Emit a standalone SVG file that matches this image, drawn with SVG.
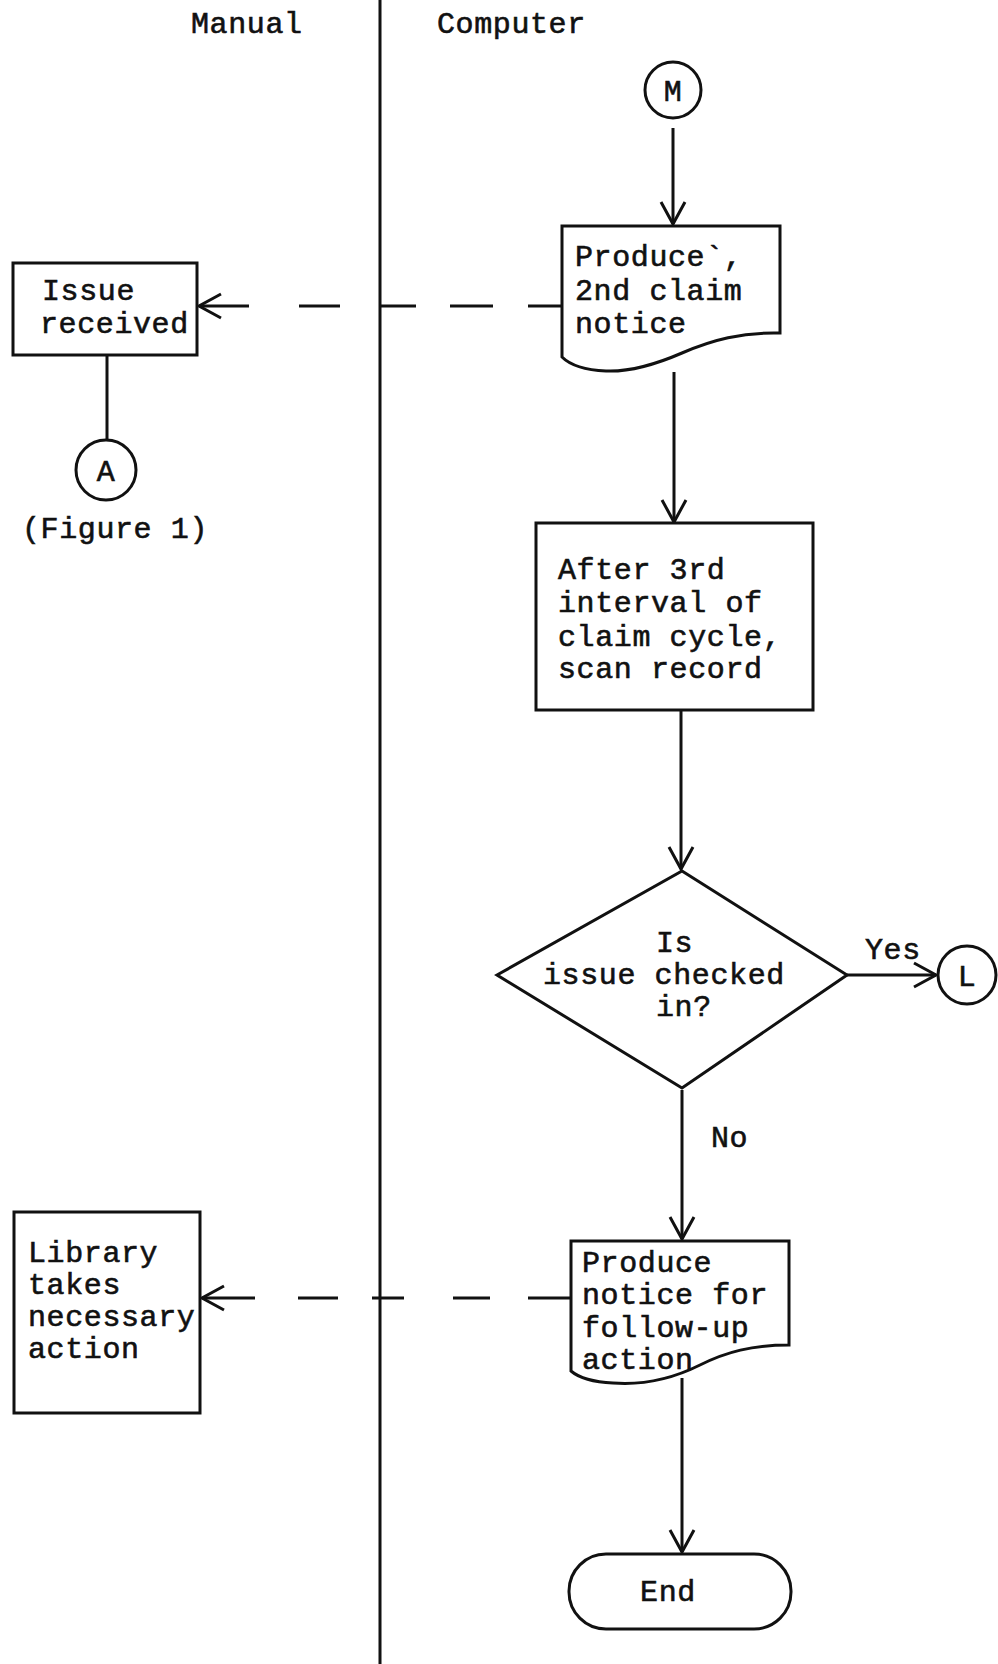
<svg xmlns="http://www.w3.org/2000/svg" width="998" height="1664" viewBox="0 0 998 1664">
<defs>
<style>
text{font-family:"Liberation Mono","Courier New",monospace;font-size:30px;letter-spacing:0.6px;fill:#111;stroke:#111;stroke-width:0.6}
.s{fill:#fff;stroke:#111;stroke-width:3}
.c{fill:none;stroke:#111;stroke-width:3}
.d{fill:none;stroke:#111;stroke-width:3}
</style>
<marker id="ah" markerUnits="userSpaceOnUse" markerWidth="30" markerHeight="30" viewBox="0 0 30 30" refX="23" refY="12" orient="auto" overflow="visible">
<path d="M1,0 L23,12 L1,24" fill="none" stroke="#111" stroke-width="3"/>
</marker>
</defs>
<rect width="998" height="1664" fill="#fff"/>

<g id="lanes">
<line x1="380" y1="0" x2="380" y2="1664" stroke="#111" stroke-width="3"/>
<text x="191" y="33">Manual</text>
<text x="437" y="33">Computer</text>
</g>

<g id="connectors">
<line class="c" x1="673" y1="128" x2="673" y2="224" marker-end="url(#ah)"/>
<line class="c" x1="674" y1="372" x2="674" y2="522" marker-end="url(#ah)"/>
<line class="c" x1="681" y1="711" x2="681" y2="869" marker-end="url(#ah)"/>
<line class="c" x1="682" y1="1090" x2="682" y2="1239" marker-end="url(#ah)"/>
<line class="c" x1="682" y1="1378" x2="682" y2="1552" marker-end="url(#ah)"/>
<line class="c" x1="847" y1="975" x2="936" y2="975" marker-end="url(#ah)"/>
<line class="c" x1="107" y1="355" x2="107" y2="440"/>
<g class="d">
<line x1="249" y1="306" x2="199" y2="306" marker-end="url(#ah)"/>
<line x1="299" y1="306" x2="340" y2="306"/>
<line x1="380" y1="306" x2="416" y2="306"/>
<line x1="450" y1="306" x2="493" y2="306"/>
<line x1="528" y1="306" x2="562" y2="306"/>
</g>
<g class="d">
<line x1="255" y1="1298" x2="202" y2="1298" marker-end="url(#ah)"/>
<line x1="298" y1="1298" x2="338" y2="1298"/>
<line x1="372" y1="1298" x2="404" y2="1298"/>
<line x1="453" y1="1298" x2="490" y2="1298"/>
<line x1="528" y1="1298" x2="571" y2="1298"/>
</g>
<text x="865" y="959">Yes</text>
<text x="711" y="1147">No</text>
</g>

<g id="node-M">
<circle class="s" cx="673" cy="90" r="28"/>
<text x="673" y="101" text-anchor="middle">M</text>
</g>

<g id="node-issue-received">
<rect class="s" x="13" y="263" width="184" height="92"/>
<text x="42" y="300">Issue</text>
<text x="40" y="333">received</text>
</g>

<g id="node-A">
<circle class="s" cx="106" cy="470" r="30"/>
<text x="106" y="481" text-anchor="middle">A</text>
<text x="22" y="538">(Figure 1)</text>
</g>

<g id="node-doc1">
<path class="s" d="M562,226 H780 V333 C742,332 712,340 682,353 C652,366 628,372 606,371 C585,370 570,365 562,357 Z"/>
<text x="575" y="266">Produce`,</text>
<text x="575" y="300">2nd claim</text>
<text x="575" y="333">notice</text>
</g>

<g id="node-scan">
<rect class="s" x="536" y="523" width="277" height="187"/>
<text x="558" y="579">After 3rd</text>
<text x="558" y="612">interval of</text>
<text x="558" y="646">claim cycle,</text>
<text x="558" y="678">scan record</text>
</g>

<g id="node-decision">
<path class="s" d="M682,871 L847,975 L682,1088 L497,975 Z"/>
<text x="656" y="952">Is</text>
<text x="543" y="984">issue checked</text>
<text x="656" y="1016">in?</text>
</g>

<g id="node-L">
<circle class="s" cx="967" cy="975" r="29"/>
<text x="967" y="986" text-anchor="middle">L</text>
</g>

<g id="node-doc2">
<path class="s" d="M571,1241 H789 V1345 C752,1345 726,1352 700,1365 C670,1380 640,1385 613,1383 C592,1382 578,1377 571,1371 Z"/>
<text x="582" y="1272">Produce</text>
<text x="582" y="1304">notice for</text>
<text x="582" y="1337">follow-up</text>
<text x="582" y="1369">action</text>
</g>

<g id="node-library">
<rect class="s" x="14" y="1212" width="186" height="201"/>
<text x="28" y="1262">Library</text>
<text x="28" y="1294">takes</text>
<text x="28" y="1326">necessary</text>
<text x="28" y="1358">action</text>
</g>

<g id="node-end">
<rect class="s" x="569" y="1554" width="222" height="75" rx="37" ry="37"/>
<text x="668" y="1601" text-anchor="middle">End</text>
</g>
</svg>
